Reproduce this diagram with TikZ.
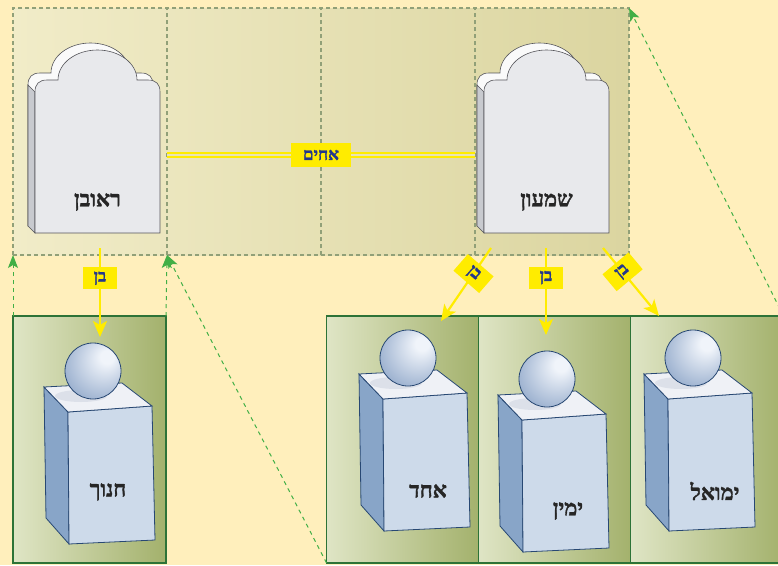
\documentclass[tikz,border=0pt]{standalone}
\usepackage{fontspec}
\setmainfont{Liberation Serif}
\newfontfamily\hebfont[Script=Hebrew,FakeBold=1.6]{Liberation Serif Bold}
\TeXXeTstate=1
\usetikzlibrary{arrows.meta}

\definecolor{paper}{RGB}{255,239,188}
\definecolor{bandlight}{RGB}{241,236,200}
\definecolor{banddark}{RGB}{219,213,160}
\definecolor{bandmid}{RGB}{232,227,182}
\definecolor{dashgray}{RGB}{145,160,120}
\definecolor{boxlight}{RGB}{223,229,197}
\definecolor{boxdark}{RGB}{163,177,108}
\definecolor{boxedge}{RGB}{45,115,55}
\definecolor{stoneface}{RGB}{232,233,236}
\definecolor{stoneback}{RGB}{250,250,250}
\definecolor{stoneside}{RGB}{200,202,207}
\definecolor{stoneline}{RGB}{85,85,90}
\definecolor{cubetop}{RGB}{239,241,246}
\definecolor{cubeshade}{RGB}{220,224,233}
\definecolor{cubefront}{RGB}{205,218,234}
\definecolor{cubeside}{RGB}{136,165,200}
\definecolor{cubeline}{RGB}{40,72,115}
\definecolor{globehi}{RGB}{240,244,250}
\definecolor{globelo}{RGB}{122,150,190}
\definecolor{tagyellow}{RGB}{255,236,0}
\definecolor{tagblue}{RGB}{35,55,140}
\definecolor{linkgreen}{RGB}{65,175,70}

\pgfdeclareradialshading{globe}{\pgfpoint{14bp}{14bp}}{color(0bp)=(globehi); color(6bp)=(globehi); color(45bp)=(globelo); color(60bp)=(globelo)}

\tikzset{
  panel/.style={draw=dashgray, dash pattern=on 4pt off 3pt, line width=1.1pt,
    minimum width=154pt, minimum height=247pt, inner sep=0pt, outer sep=0pt},
  cellbox/.style={draw=boxedge, line width=1.2pt, left color=boxlight, right color=boxdark,
    minimum width=153pt, minimum height=247pt, inner sep=0pt, outer sep=0pt},
  stonename/.style={font=\hebfont\fontsize{22}{22}\selectfont, text=black!85},
  tag/.style={fill=tagyellow, text=tagblue, font=\hebfont\fontsize{17}{17}\selectfont,
    inner sep=0pt, minimum height=22pt, minimum width=34pt},
  son/.style={draw=tagyellow, line width=2.2pt, -{Stealth[length=16pt,width=14pt,inset=4pt]}},
  link/.style={draw=linkgreen, line width=1pt, dash pattern=on 4pt off 4pt,
    -{Stealth[length=13pt,width=10pt,inset=3pt]}},
}

%% outline of a gravestone, from its lower left corner
\def\stonepath{(0,0) -- (0,-141) .. controls (0,-149) and (4,-153) .. (12,-153) -- (23,-153)
  .. controls (23,-170) and (41,-183) .. (62.5,-183) .. controls (84,-183) and (102,-170) .. (102,-153)
  -- (113,-153) .. controls (121,-153) and (125,-149) .. (125,-141) -- (125,0) -- cycle}

\newcommand{\tombstone}[2]{%
  \begin{scope}[shift={(#1,#2)}, draw=stoneline, line width=0.6pt]
    \filldraw[fill=stoneback, shift={(-7,-7)}] \stonepath;
    \filldraw[fill=stoneside] (-7,-7) -- (-7,-148) -- (0,-141) -- (0,0) -- cycle;
    \filldraw[fill=stoneface] \stonepath;
  \end{scope}}

%% block with a ball on top, from the centre of the ball
\newcommand{\pedestal}[2]{%
  \begin{scope}[shift={(#1,#2)}, draw=cubeline, line width=0.8pt]
    \filldraw[fill=cubeside] (-49,16) -- (-25,41) -- (-24,173) -- (-47,147) -- cycle;
    \filldraw[fill=cubefront] (-25,41) -- (59,35) -- (62,169) -- (-24,173) -- cycle;
    \filldraw[fill=cubetop] (-49,16) -- (29,12) -- (59,35) -- (-25,41) -- cycle;
    \fill[cubeshade] (-12,25) ellipse (26 and 6);
    \shadedraw[shading=globe] (0,0) circle (28);
  \end{scope}}

\begin{document}
\begin{tikzpicture}[x=1pt,y=-1pt]
\useasboundingbox (0,0) rectangle (778,565);
\clip (0,0) rectangle (778,565);
\fill[paper] (0,0) rectangle (778,565);

%% upper band
\shade[left color=bandlight, right color=banddark] (13,8) rectangle (629,255);
\node[panel] (p1) at (90,131.5) {};
\node[panel] (p2) at (244,131.5) {};
\node[panel] (p3) at (398,131.5) {};
\node[panel] (p4) at (552,131.5) {};

%% gravestones
\tombstone{35}{233}
\tombstone{484}{233}
\node[stonename] (reuven) at (97.5,202) {\beginR ראובן\endR};
\node[stonename] (shimon) at (546.5,202) {\beginR שמעון\endR};

%% lower cells
\node[cellbox] (b1) at (89.5,439.5) {};
\node[cellbox] (b2) at (403,439.5) {};
\node[cellbox] (b3) at (555,439.5) {};
\node[cellbox] (b4) at (707,439.5) {};

%% blocks
\pedestal{93}{371}
\pedestal{408}{358}
\pedestal{547}{379}
\pedestal{693}{358}
\node[stonename] (hanoch) at (108,492) {\beginR חנוך\endR};
\node[stonename] (ehad) at (428,491) {\beginR אחד\endR};
\node[stonename] (yamin) at (568,511) {\beginR ימין\endR};
\node[stonename] (yemuel) at (715,491) {\beginR ימואל\endR};

%% brothers
\draw[tagyellow, line width=1.5pt, double=bandmid, double distance=2.6pt]
  ([yshift=-23.5pt]p1.east) -- ([yshift=-23.5pt]p4.west)
  node[midway, tag, minimum width=60pt, minimum height=24pt] {\beginR אחים\endR};

%% sons
\coordinate (reuvenfoot) at (100,248);
\coordinate (hanochtop) at (100,337);
\coordinate (shimonfootl) at (491,248);
\coordinate (shimonfoot) at (546,248);
\coordinate (shimonfootr) at (603,248);
\coordinate (ehadtop) at (441,321);
\coordinate (yamintop) at (546,335);
\coordinate (yemueltop) at (659,316);
\draw[son] (reuvenfoot) -- (hanochtop) node[pos=0.34, tag] {\beginR בן\endR};
\draw[son] (shimonfoot) -- (yamintop) node[pos=0.34, tag] {\beginR בן\endR};
\draw[son] (shimonfootl) -- (ehadtop) node[pos=0.35, tag, rotate=-41] {\beginR בן\endR};
\draw[son] (shimonfootr) -- (yemueltop) node[pos=0.35, tag, rotate=40] {\beginR בן\endR};

%% green links
\draw[link] (b1.north west) -- (p1.south west);
\draw[link] (b1.north east) -- (p1.south east);
\draw[link] (b2.south west) -- (p2.south west);
\draw[link] (b4.north east) -- (p4.north east);
\end{tikzpicture}
\end{document}
